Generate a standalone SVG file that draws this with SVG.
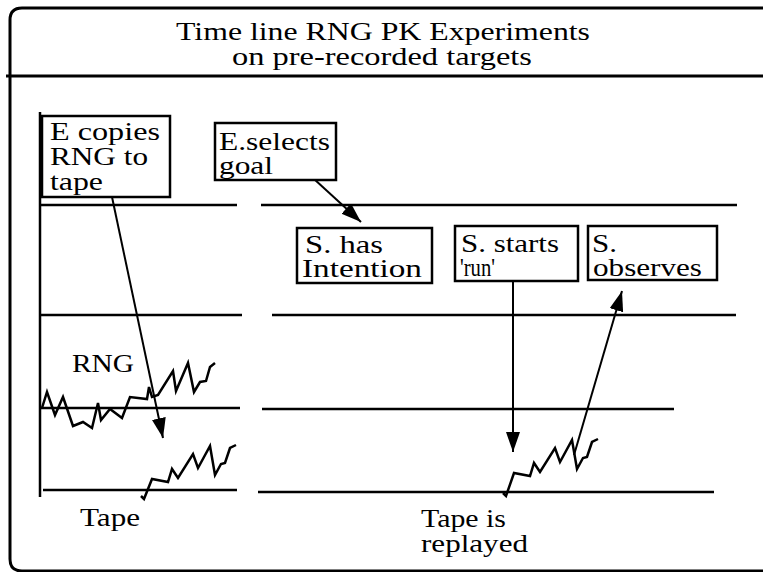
<svg xmlns="http://www.w3.org/2000/svg" width="763" height="572" viewBox="0 0 763 572">
<style>
text{font-family:"Liberation Serif","Times New Roman",serif;font-size:26px;fill:#000}
.ln{stroke:#000;stroke-width:2.5;fill:none}
.box{stroke:#000;stroke-width:2.5;fill:#fff}
.sq{stroke:#000;stroke-width:2.5;fill:none;stroke-linejoin:miter}
.ar{stroke:#000;stroke-width:2;fill:none}
</style>
<defs>
<marker id="ah" markerUnits="userSpaceOnUse" markerWidth="22" markerHeight="16" refX="20" refY="7" orient="auto">
<path d="M0,0 L20,7 L0,14 z" fill="#000"/>
</marker>
</defs>
<g id="frame">
<path d="M763,8 L22,8 Q10,8 10,20 L10,559 Q10,571 22,571 L763,571" stroke="#000" stroke-width="3" fill="none"/>
<line x1="6" y1="76" x2="763" y2="76" stroke="#000" stroke-width="3"/>
<text x="176" y="40" textLength="414" lengthAdjust="spacingAndGlyphs">Time line RNG PK Experiments</text>
<text x="232" y="65" textLength="300" lengthAdjust="spacingAndGlyphs">on pre-recorded targets</text>
</g>
<g id="timelines">
<line class="ln" x1="40" y1="112" x2="40" y2="497"/>
<line class="ln" x1="40" y1="205" x2="237" y2="205"/>
<line class="ln" x1="261" y1="205" x2="737" y2="205"/>
<line class="ln" x1="40" y1="315" x2="242" y2="315"/>
<line class="ln" x1="272" y1="315" x2="736" y2="315"/>
<line class="ln" x1="40" y1="408" x2="240" y2="408"/>
<line class="ln" x1="262" y1="409" x2="674" y2="409"/>
<line class="ln" x1="43" y1="490" x2="237" y2="490"/>
<line class="ln" x1="258" y1="492" x2="714" y2="492"/>
</g>
<g id="rng-signal">
<polyline class="sq" points="42,408 47,392 55,415 63,397 73,426 83,422 92,428 98,403 101,420 110,409 122,418 130,397 147,399 149,387 152,397 158,395 173,371 176,391 188,363 194,392 200,382 206,381 210,367 215,363"/>
<text x="72" y="372" textLength="62" lengthAdjust="spacingAndGlyphs">RNG</text>
</g>
<g id="tape-signal">
<polyline class="sq" points="141,496 144,499 152,479 168,482 172,469 178,478 193,454 198,468 210,446 215,475 221,464 225,463 230,448 236,445"/>
<text x="80" y="526" textLength="60" lengthAdjust="spacingAndGlyphs">Tape</text>
</g>
<g id="replay-signal">
<polyline class="sq" points="503,493 506,496 514,473 530,476 534,463 540,472 555,448 560,462 572,440 577,469 583,458 587,457 592,442 598,439"/>
<text x="421" y="527" textLength="85" lengthAdjust="spacingAndGlyphs">Tape is</text>
<text x="421" y="552" textLength="107" lengthAdjust="spacingAndGlyphs">replayed</text>
</g>
<g id="connectors">
<line class="ar" x1="112" y1="197" x2="163" y2="438" marker-end="url(#ah)"/>
<line class="ar" x1="302" y1="168" x2="361" y2="222" marker-end="url(#ah)"/>
<line class="ar" x1="513" y1="281" x2="513" y2="452" marker-end="url(#ah)"/>
<line class="ar" x1="574" y1="455" x2="622" y2="291" marker-end="url(#ah)"/>
</g>
<g id="e-copies">
<rect class="box" x="42" y="116" width="128" height="81"/>
<text x="50" y="140" textLength="110" lengthAdjust="spacingAndGlyphs">E copies</text>
<text x="50" y="165" textLength="98" lengthAdjust="spacingAndGlyphs">RNG to</text>
<text x="50" y="190" textLength="53" lengthAdjust="spacingAndGlyphs">tape</text>
</g>
<g id="e-selects">
<rect class="box" x="215" y="123" width="121" height="57"/>
<text x="219" y="150" textLength="111" lengthAdjust="spacingAndGlyphs">E.selects</text>
<text x="219" y="174" textLength="54" lengthAdjust="spacingAndGlyphs">goal</text>
</g>
<g id="s-has">
<rect class="box" x="297" y="228" width="135" height="55"/>
<text x="305" y="253" textLength="78" lengthAdjust="spacingAndGlyphs">S. has</text>
<text x="302" y="277" textLength="120" lengthAdjust="spacingAndGlyphs">Intention</text>
</g>
<g id="s-starts">
<rect class="box" x="455" y="226" width="123" height="55"/>
<text x="461" y="252" textLength="98" lengthAdjust="spacingAndGlyphs">S. starts</text>
<text x="460" y="276" textLength="35" lengthAdjust="spacingAndGlyphs">'run'</text>
</g>
<g id="s-observes">
<rect class="box" x="588" y="226" width="129" height="54"/>
<text x="592" y="252" textLength="25" lengthAdjust="spacingAndGlyphs">S.</text>
<text x="593" y="276" textLength="109" lengthAdjust="spacingAndGlyphs">observes</text>
</g>
</svg>
